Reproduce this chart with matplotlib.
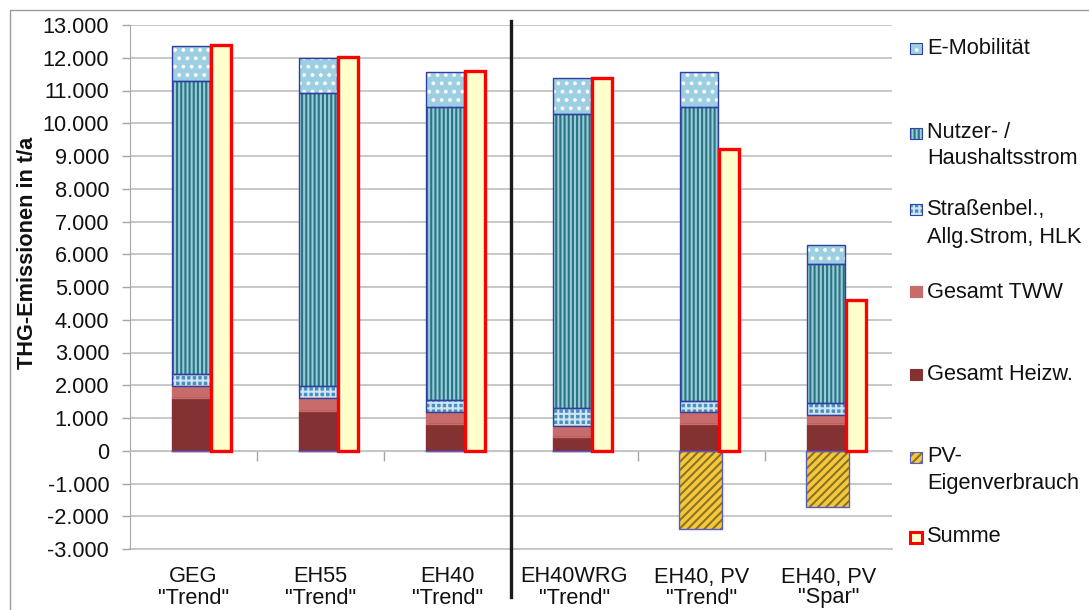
import matplotlib
matplotlib.use("Agg")
import matplotlib.pyplot as plt
from matplotlib.patches import Rectangle
from matplotlib.transforms import blended_transform_factory
from matplotlib.ticker import FuncFormatter, FixedLocator

plt.rcParams["font.family"] = ["Liberation Sans", "DejaVu Sans"]
plt.rcParams["hatch.linewidth"] = 1.5

# Szenarien (zweizeilige Kategorienbeschriftung)
kat_zeile1 = ["GEG", "EH55", "EH40", "EH40WRG", "EH40, PV", "EH40, PV"]
kat_zeile2 = ['"Trend"', '"Trend"', '"Trend"', '"Trend"', '"Trend"', '"Spar"']

# THG-Emissionen in t/a je Verursacher
heizw = [1600, 1220, 820, 430, 820, 820]
tww = [370, 400, 370, 330, 370, 280]
strassen = [370, 360, 370, 550, 340, 360]
nutzer = [8940, 8940, 8950, 8970, 8970, 4250]
emob = [1080, 1070, 1060, 1090, 1070, 560]
pv_eigen = [0, 0, 0, 0, -2380, -1730]
summe = [12390, 12010, 11600, 11390, 9200, 4590]

y_ticks = list(range(-3000, 13001, 1000))

W, H = 1089, 610
fig = plt.figure(figsize=(W / 100, H / 100), dpi=100)
ax = fig.add_axes([130 / W, 61 / H, 762 / W, 524 / H])

FS = 15.7
GRAU = "#a6a6a6"
KANTE_BLAU = "#3040a0"

# Darstellung der Stapelanteile: (Name, Werte, Fläche, Schraffur, Schraffurfarbe, Kante)
stil = [
    ("Gesamt Heizw.", heizw, "#843131", None, None, "#843131"),
    ("Gesamt TWW", tww, "#c86b6b", None, None, "#c86b6b"),
    ("Straßenbel.,\nAllg.Strom, HLK", strassen, "#4a90bf", "+++", "#cde6f2", KANTE_BLAU),
    ("Nutzer- /\nHaushaltsstrom", nutzer, "#98cdd8", "||||", "#2a7384", KANTE_BLAU),
    ("E-Mobilität", emob, "#9ccfe1", "..", "#ffffff", KANTE_BLAU),
]

x = list(range(len(kat_zeile1)))
x_stapel = [i - 0.02 for i in x]
x_pv = [i - 0.005 for i in x]
x_summe = [i + 0.217 for i in x]
B_STAPEL, B_PV, B_SUMME = 0.30, 0.34, 0.157


def balken(xs, hoehe, breite, unten, flaeche, schraffur, sfarbe, kante, lw=1.0, z=3):
    ax.bar(xs, hoehe, breite, bottom=unten, color=flaeche, edgecolor="none",
           linewidth=0, zorder=z)
    if schraffur:
        ax.bar(xs, hoehe, breite, bottom=unten, color="none", edgecolor=sfarbe,
               hatch=schraffur, linewidth=0, zorder=z + 0.1)
    ax.bar(xs, hoehe, breite, bottom=unten, color="none", edgecolor=kante,
           linewidth=lw, zorder=z + 0.2)


basis = [0] * len(x)
for name, werte, fl, sch, sf, ka in stil:
    balken(x_stapel, werte, B_STAPEL, basis, fl, sch, sf, ka, lw=1.0)
    basis = [b + w for b, w in zip(basis, werte)]

# PV-Eigenverbrauch (negativ)
PV_FLAECHE, PV_SCHRAFFUR, PV_SFARBE, PV_KANTE = "#f5c83c", "////", "#8a7424", "#5a5ad0"
balken(x_pv, pv_eigen, B_PV, [0] * len(x), PV_FLAECHE, PV_SCHRAFFUR, PV_SFARBE,
       PV_KANTE, lw=1.0)

# Summe
ax.bar(x_summe, summe, B_SUMME, color="#ffffcc", edgecolor="#ff0000",
       linewidth=2.4, zorder=5)

# Achsen
ax.set_xlim(-0.5, 5.5)
ax.set_ylim(-3000, 13000)
ax.yaxis.set_major_locator(FixedLocator(y_ticks))
ax.yaxis.set_major_formatter(FuncFormatter(
    lambda v, p: f"{int(v):,}".replace(",", ".")))
ax.set_axisbelow(True)
ax.yaxis.grid(True, color="#c4c4c4", linewidth=1.3, zorder=0)
ax.axhline(-3000, color="#c4c4c4", linewidth=1.3, clip_on=False, zorder=0)

ax.tick_params(axis="y", colors=GRAU, length=6, width=1, pad=9,
               labelsize=FS, labelcolor="#111111")
ax.spines["left"].set_color(GRAU)
ax.spines["top"].set_visible(False)
ax.spines["right"].set_visible(False)
ax.spines["bottom"].set_position(("data", 0))
ax.spines["bottom"].set_color("#c4c4c4")
ax.set_xticks([0.5, 1.5, 3.5, 4.5])
ax.set_xticklabels([])
ax.tick_params(axis="x", colors=GRAU, length=7, width=1, direction="out")

trans_xf = blended_transform_factory(ax.transData, fig.transFigure)
for i, (z1, z2) in enumerate(zip(kat_zeile1, kat_zeile2)):
    ax.text(i, 1 - 577 / H, z1, transform=trans_xf, ha="center", va="center",
            fontsize=FS, color="#111111")
    ax.text(i, 1 - 598 / H, z2, transform=trans_xf, ha="center", va="center",
            fontsize=FS, color="#111111")

# Trennlinie zwischen den Szenariengruppen
ax.plot([2.5, 2.5], [1 - 21 / H, 1 - 597 / H], transform=trans_xf,
        color="#1a1a1a", linewidth=2.4, clip_on=False, zorder=6)

fig.text(28 / W, 1 - 253 / H, "THG-Emissionen in t/a", rotation=90,
         ha="center", va="center", fontsize=FS, fontweight="bold",
         color="#111111")

# Rahmen des Diagrammbereichs
fig.patches.append(Rectangle((10 / W, -0.1), 1.2, 1 - 10 / H + 0.1,
                             transform=fig.transFigure, fill=False,
                             edgecolor="#9a9a9a", linewidth=1.0))

# Legende


def fx(px):
    return px / W


def fy(py):
    return 1 - py / H


def legenden_feld(yc, flaeche, schraffur, sfarbe, kante, lw=0.8):
    w, h = 12, 11
    fig.patches.append(Rectangle((fx(910), fy(yc + h / 2)), w / W, h / H,
                                 transform=fig.transFigure, facecolor=flaeche,
                                 edgecolor="none"))
    if schraffur:
        fig.patches.append(Rectangle((fx(910), fy(yc + h / 2)), w / W, h / H,
                                     transform=fig.transFigure, facecolor="none",
                                     edgecolor=sfarbe, hatch=schraffur, linewidth=0))
    fig.patches.append(Rectangle((fx(910), fy(yc + h / 2)), w / W, h / H,
                                 transform=fig.transFigure, facecolor="none",
                                 edgecolor=kante, linewidth=lw))


legende = [
    (["E-Mobilität"], [48], stil[4]),
    (["Nutzer- /", "Haushaltsstrom"], [133, 158], stil[3]),
    (["Straßenbel.,", "Allg.Strom, HLK"], [209, 237], stil[2]),
    (["Gesamt TWW"], [292], stil[1]),
    (["Gesamt Heizw."], [374], stil[0]),
]
for zeilen, ys, (_, _, fl, sch, sf, ka) in legende:
    legenden_feld(ys[0], fl, sch, sf, ka if sch else fl)
    for t, yy in zip(zeilen, ys):
        fig.text(fx(927), fy(yy), t, ha="left", va="center", fontsize=FS,
                 color="#111111")

legenden_feld(457, PV_FLAECHE, PV_SCHRAFFUR, PV_SFARBE, PV_KANTE)
fig.text(fx(927), fy(457), "PV-", ha="left", va="center", fontsize=FS, color="#111111")
fig.text(fx(927), fy(483), "Eigenverbrauch", ha="left", va="center", fontsize=FS,
         color="#111111")
legenden_feld(537, "#ffffcc", None, None, "#ff0000", lw=2.2)
fig.text(fx(927), fy(537), "Summe", ha="left", va="center", fontsize=FS, color="#111111")

fig.savefig("out.png", dpi=100)
